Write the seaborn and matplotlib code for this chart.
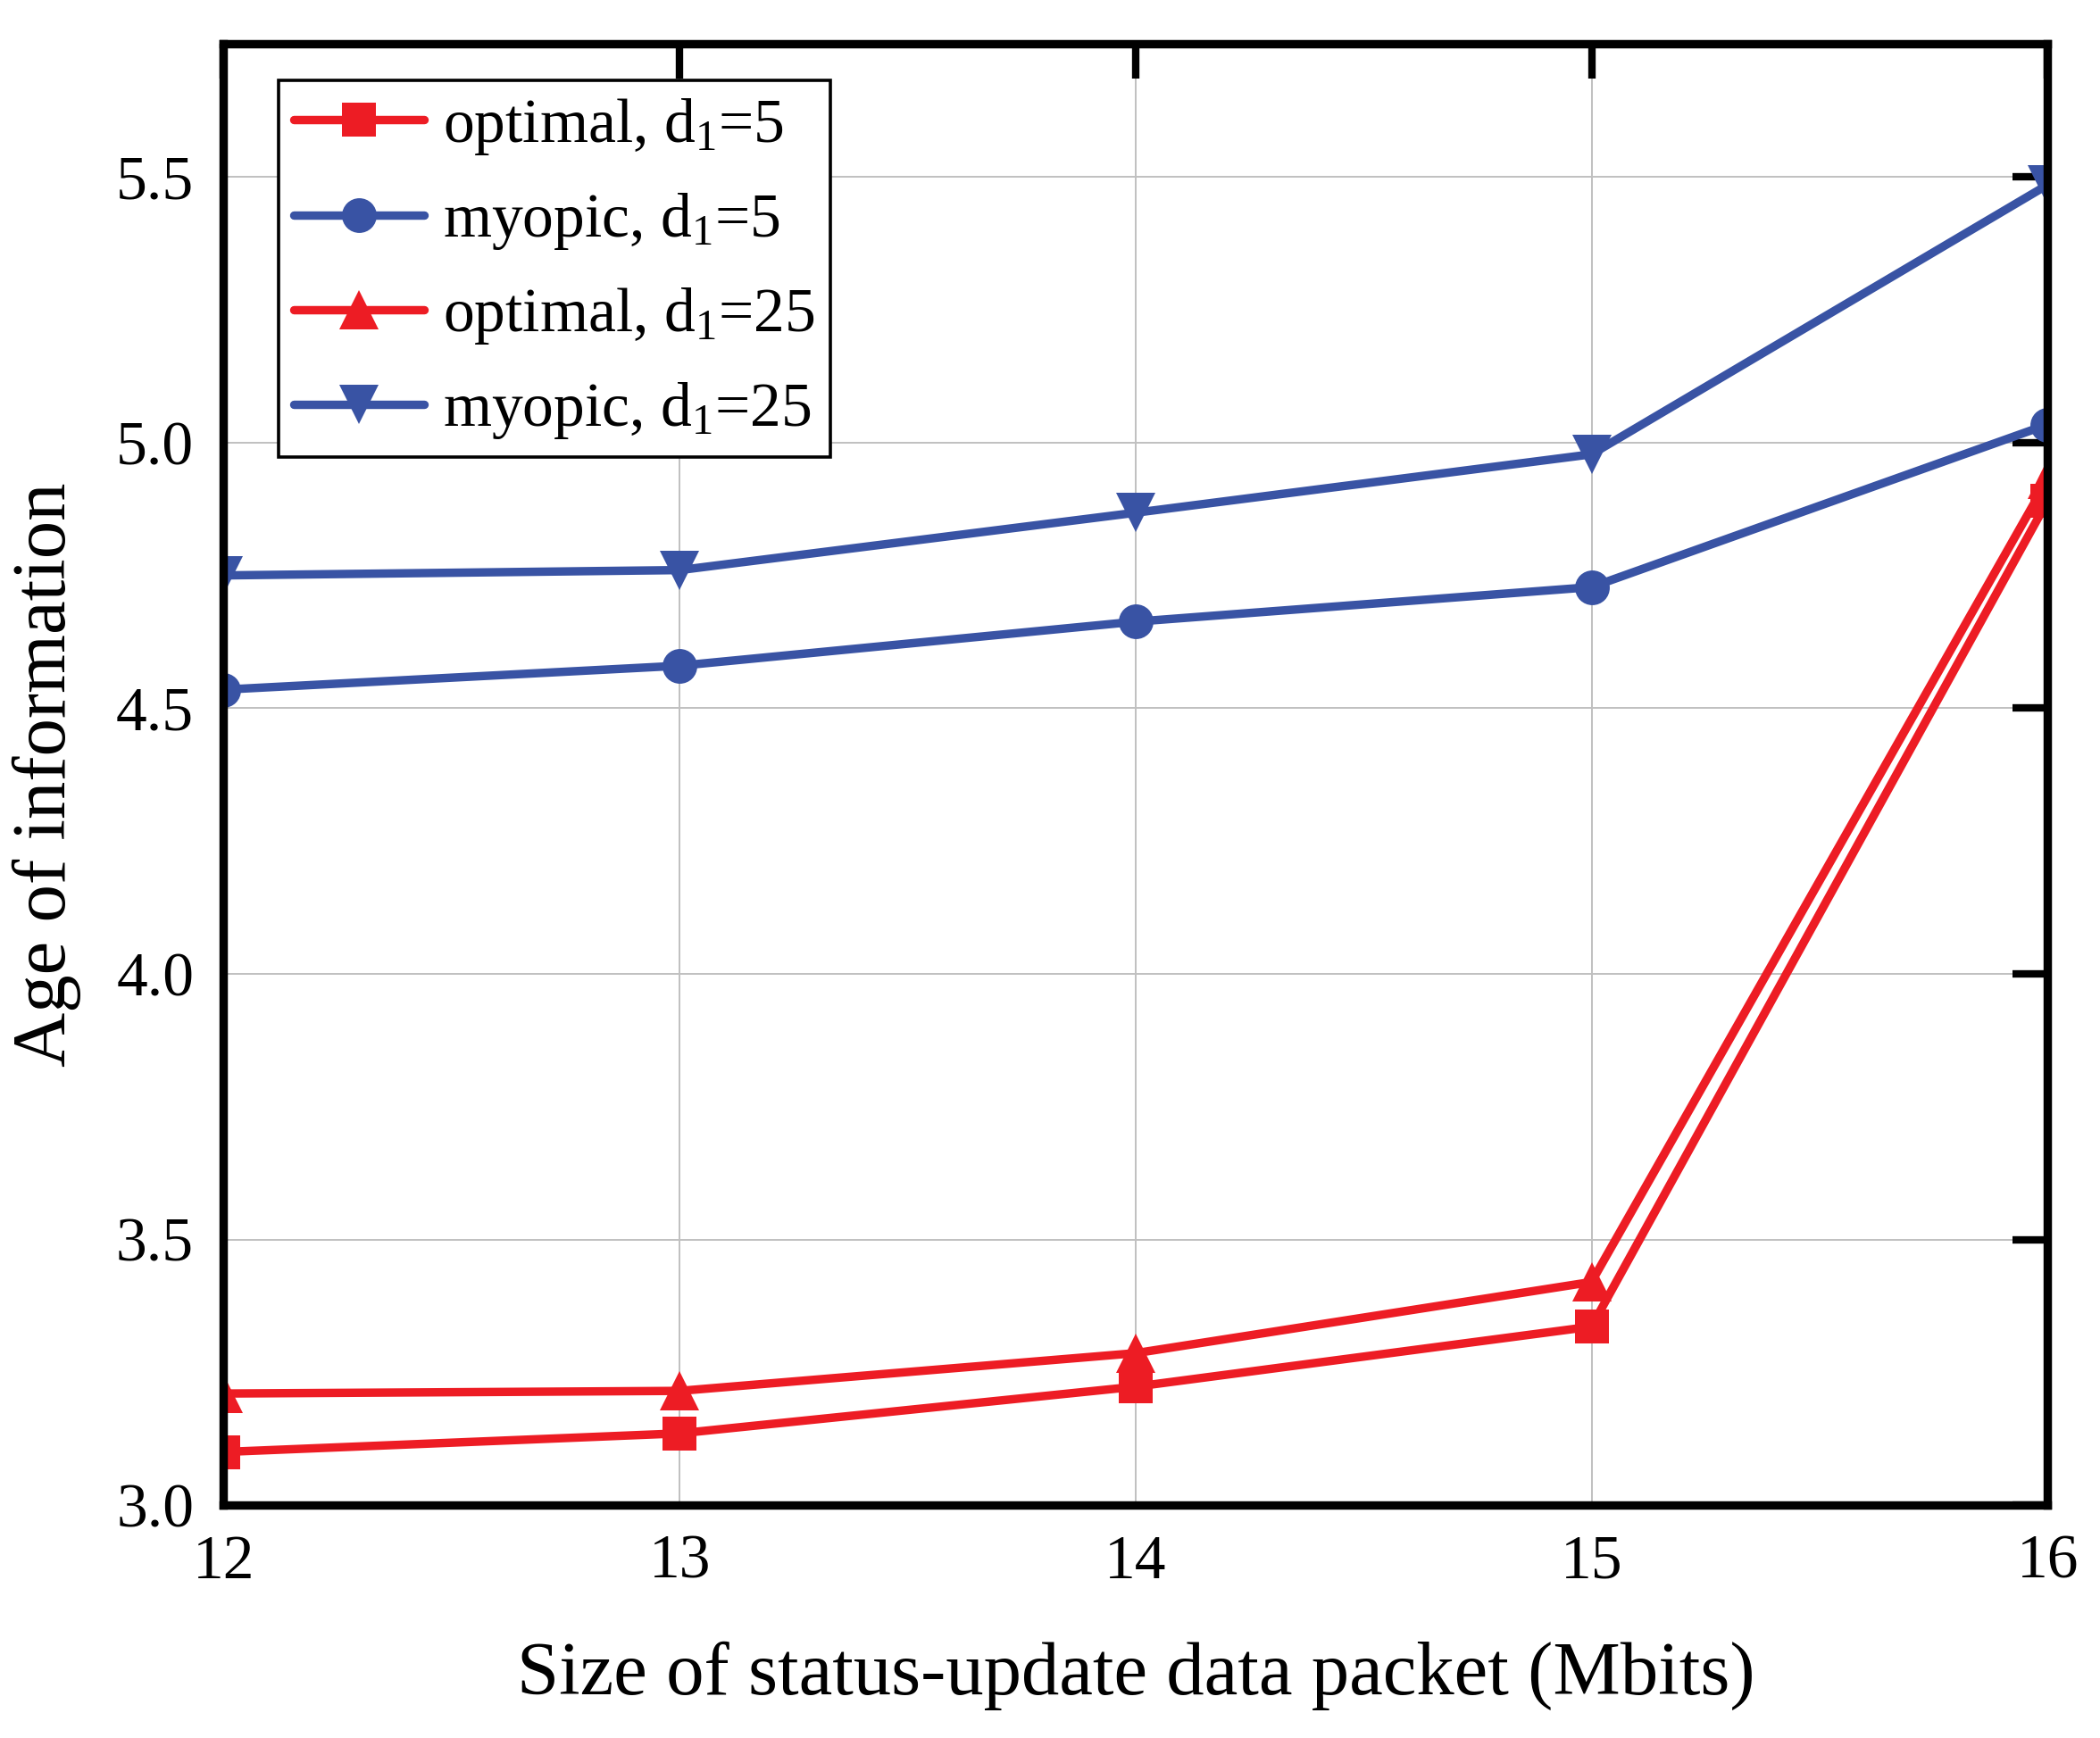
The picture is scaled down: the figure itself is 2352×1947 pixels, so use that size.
import numpy as np
import pandas as pd
import matplotlib
matplotlib.use("Agg")
import matplotlib.pyplot as plt
import seaborn as sb

# data
packet_size = [12, 13, 14, 15, 16]
optimal_d5 = [3.10, 3.135, 3.223, 3.336, 4.89]
myopic_d5 = [4.535, 4.58, 4.663, 4.728, 5.034]
optimal_d25 = [3.21, 3.215, 3.286, 3.42, 4.93]
myopic_d25 = [4.75, 4.76, 4.868, 4.978, 5.485]

labels = ["optimal, d$_1$=5", "myopic, d$_1$=5", "optimal, d$_1$=25", "myopic, d$_1$=25"]
series = [optimal_d5, myopic_d5, optimal_d25, myopic_d25]
markers = ["s", "o", "^", "v"]
msizes = [14, 14, 16, 16]
red = "#ED1C24"
blue = "#3953A4"
colors = [red, blue, red, blue]

sb.set_style("white")
plt.rcParams["font.family"] = ["Liberation Serif", "DejaVu Serif"]
plt.rcParams["mathtext.fontset"] = "custom"
plt.rcParams["mathtext.rm"] = "Liberation Serif"
plt.rcParams["mathtext.it"] = "Liberation Serif"
for k in ["text.color", "axes.labelcolor", "xtick.color", "ytick.color"]:
    plt.rcParams[k] = "black"

fig, ax = plt.subplots(figsize=(11.76, 9.735), dpi=200)
fig.subplots_adjust(left=0.1065, right=0.975, top=0.9746, bottom=0.134)

for vals, lab, m, ms, c in zip(series, labels, markers, msizes, colors):
    df = pd.DataFrame({"x": packet_size, "y": vals})
    sb.lineplot(data=df, x="x", y="y", ax=ax, color=c, marker=m, markersize=ms,
                markeredgewidth=0, linewidth=3.4, legend=False)
    ax.lines[-1].set_label(lab)

ax.set_xlim(12, 16)
ax.set_ylim(3.0, 5.75)
ax.set_xticks([12, 13, 14, 15, 16])
ax.set_yticks([3.0, 3.5, 4.0, 4.5, 5.0, 5.5])
ax.set_yticklabels(["3.0", "3.5", "4.0", "4.5", "5.0", "5.5"])
ax.grid(True, color="#c0c0c0", linewidth=0.7)
ax.set_axisbelow(True)

for s in ax.spines.values():
    s.set_linewidth(3.4)
    s.set_color("black")
ax.tick_params(direction="in", length=14, width=3.0, labelsize=25,
               top=True, right=True, pad=12)

ax.set_xlabel("Size of status-update data packet (Mbits)", fontsize=30.5, labelpad=20)
ax.set_ylabel("Age of information", fontsize=30.5, labelpad=14)

leg = ax.legend(handles=ax.lines[:4], loc="upper left", bbox_to_anchor=(0.03, 0.975),
                fontsize=25, frameon=True, fancybox=False, edgecolor="black",
                framealpha=1, handlelength=2.1, handletextpad=0.3, labelspacing=0.55,
                borderpad=0.25, borderaxespad=0)
leg.get_frame().set_linewidth(1.3)

fig.savefig("out.png", dpi=200)
